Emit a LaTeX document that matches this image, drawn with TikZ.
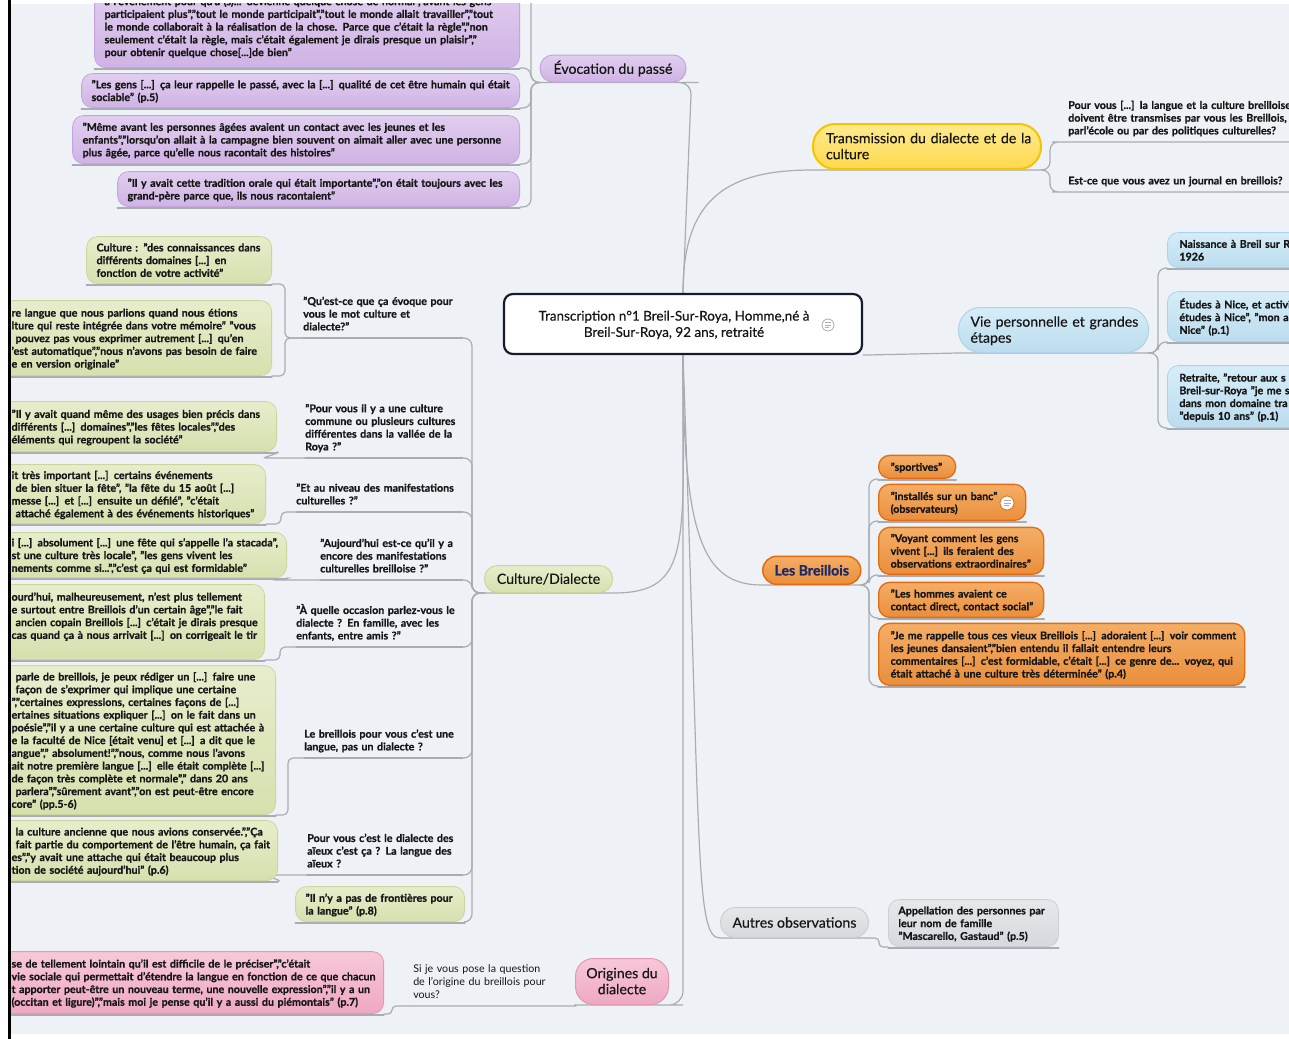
\documentclass[tikz,border=0pt]{standalone}
\usepackage{fontspec}
\setmainfont{Lato}[BoldFeatures={FakeBold=0.9}]
\newfontfamily\topf{Lato}[FakeBold=0.45]
\usetikzlibrary{calc}
\newdimen\pxu \pxu=0.75pt
\definecolor{bgc}{HTML}{EEF2F6}
\definecolor{linec}{HTML}{A9ADB3}
\definecolor{txtc}{HTML}{161616}
\definecolor{purT}{HTML}{E1CEF0}
\definecolor{purB}{HTML}{CFB3E4}
\definecolor{purD}{HTML}{C4A5DB}
\definecolor{grnT}{HTML}{E7EDCC}
\definecolor{grnB}{HTML}{D6E0AE}
\definecolor{grnD}{HTML}{CAD79C}
\definecolor{bluT}{HTML}{D6EDF8}
\definecolor{bluB}{HTML}{BBDCEE}
\definecolor{bluD}{HTML}{AED3E8}
\definecolor{orgT}{HTML}{F4AE66}
\definecolor{orgB}{HTML}{EA8E3C}
\definecolor{orgD}{HTML}{E36C10}
\definecolor{yelT}{HTML}{FFEA8E}
\definecolor{yelB}{HTML}{FFD94C}
\definecolor{yelD}{HTML}{F4C400}
\definecolor{pnkT}{HTML}{F7C8D9}
\definecolor{pnkB}{HTML}{EFA8C2}
\definecolor{pnkD}{HTML}{E596B4}
\definecolor{gryT}{HTML}{E6E8EB}
\definecolor{gryB}{HTML}{D5D8DD}
\definecolor{gryD}{HTML}{CBCFD5}
\definecolor{navy}{HTML}{1B2A6B}
\definecolor{rootD}{HTML}{161B2E}
\newcommand\sfnt{\fontsize{8}{9.55}\selectfont\bfseries}
\newcommand\rfnt{\fontsize{8}{9.55}\selectfont}
\newcommand\tfnt{\topf\fontsize{10.6}{12}\selectfont}
\newcommand\ml[1]{\raisebox{-1.5\pxu}[\height][\depth]{\begin{tabular}{@{}l@{}}#1\end{tabular}}}
\newcommand\mq[1]{\begin{tabular}{@{}l@{}}#1\end{tabular}}
\newcommand\mc[1]{\raisebox{-1.5\pxu}[\height][\depth]{\begin{tabular}{@{}c@{}}#1\end{tabular}}}
\pgfdeclarelayer{bg}
\pgfsetlayers{bg,main}
\tikzset{
  conn/.style={draw=linec, line width=1.2\pxu, line cap=round},
  bx/.style n args={3}{minimum width=#1\pxu, text width=#2\pxu, minimum height=#3\pxu},
  tbox/.style={font=\sfnt, text=txtc, align=left, rounded corners=11\pxu, inner ysep=0pt, line width=0.8\pxu},
  pbox/.style={tbox, inner xsep=10\pxu, top color=purT, bottom color=purB, draw=purD},
  gbox/.style={tbox, inner xsep=10\pxu, top color=grnT, bottom color=grnB, draw=grnD},
  bbox/.style={tbox, inner xsep=12\pxu, top color=bluT, bottom color=bluB, draw=bluD},
  obox/.style={tbox, inner xsep=12\pxu, top color=orgT, bottom color=orgB, draw=orgD, line width=1.3\pxu},
  kbox/.style={tbox, inner xsep=10\pxu, top color=pnkT, bottom color=pnkB, draw=pnkD},
  ybox/.style={tbox, inner xsep=10\pxu, top color=gryT, bottom color=gryB, draw=gryD},
  topic/.style={font=\tfnt, text=txtc, inner sep=0pt, line width=1\pxu, align=left},
  qn/.style={font=\sfnt, text=txtc, align=left, inner xsep=0pt, inner ysep=3.5\pxu, anchor=south west},
  noteic/.style={circle, fill=white, draw=linec, line width=0.8\pxu, minimum size=12\pxu, inner sep=0pt},
}
\begin{document}
\begin{tikzpicture}[x=1\pxu, y=-1\pxu]
\useasboundingbox (0,0) rectangle (1289,1039);
\begin{pgfonlayer}{bg}
\fill[white] (0,0) rectangle (1289,1039);
\fill[bgc] (10,4) rectangle (1289,1034);
\end{pgfonlayer}

% ---------- root ----------
\node[font=\topf\fontsize{10.1}{12.2}\selectfont, text=txtc, fill=white, draw=rootD, line width=2.2\pxu, rounded corners=9\pxu,
  minimum width=358\pxu, minimum height=60\pxu, inner sep=0pt] (root) at (683,324)
  {\mc{Transcription n°1 Breil-Sur-Roya, Homme,né à\\Breil-Sur-Roya, 92 ans, retraité}\hspace*{18\pxu}};
\node[noteic] (rnote) at (828,325) {};
\draw[linec, line width=0.8\pxu] ([shift={(-3,-2.5)}]rnote.center) -- ++(6,0) ([shift={(-3,0)}]rnote.center) -- ++(6,0) ([shift={(-3,2.5)}]rnote.center) -- ++(4,0);

% ---------- Evocation ----------
\node[topic, top color=purT, bottom color=purB, draw=purD, minimum width=146\pxu, minimum height=27\pxu, rounded corners=13\pxu] (evo) at (613,68.5) {Évocation du passé};
\node[pbox, bx={425}{405}{82}, anchor=south east] (pa) at (520,68) {\ml{à l'événement pour qu'a (s)... devienne quelque chose de normal","avant les gens\\
participaient plus","tout le monde participait","tout le monde allait travailler","tout\\
le monde collaborait à la réalisation de la chose. Parce que c'était la règle","non\\
seulement c'était la règle, mais c'était également je dirais presque un plaisir","\\
pour obtenir quelque chose[...]de bien"}};
\node[pbox, bx={438}{418}{34}, anchor=south east] (pb) at (520,108) {\ml{"Les gens [...] ça leur rappelle le passé, avec la [...] qualité de cet être humain qui était\\sociable" (p.5)}};
\node[pbox, bx={447}{427}{48}, anchor=south east] (pc) at (520,164) {\ml{"Même avant les personnes âgées avaient un contact avec les jeunes et les\\enfants","lorsqu'on allait à la campagne bien souvent on aimait aller avec une personne\\plus âgée, parce qu'elle nous racontait des histoires"}};
\node[pbox, bx={402}{382}{35}, anchor=south east] (pd) at (520,207) {\ml{"Il y avait cette tradition orale qui était importante","on était toujours avec les\\grand-père parce que, ils nous racontaient"}};

% ---------- Transmission ----------
\node[topic, top color=yelT, bottom color=yelB, draw=yelD, line width=2\pxu, rounded corners=22\pxu, inner xsep=13\pxu,
  minimum width=228\pxu, text width=202\pxu, minimum height=45\pxu, anchor=south west] (trans) at (812,170) {\ml{Transmission du dialecte et de la\\culture}};
\node[qn, text width=240\pxu] (tq1) at (1068,142) {\mq{Pour vous [...] la langue et la culture breilloise\\doivent être transmises par vous les Breillois,\\parl'école ou par des politiques culturelles?}};
\node[qn, text width=240\pxu] (tq2) at (1068,192) {\mq{Est-ce que vous avez un journal en breillois?}};

% ---------- Vie ----------
\node[topic, top color=bluT, bottom color=bluB, draw=bluD, rounded corners=22\pxu, inner xsep=12\pxu,
  minimum width=190\pxu, text width=166\pxu, minimum height=45\pxu, anchor=south west] (vie) at (958,353) {\ml{Vie personnelle et grandes\\étapes}};
\node[bbox, bx={170}{146}{35}, anchor=south west] (vb1) at (1167,268) {\ml{Naissance à Breil sur Ro\\1926}};
\node[bbox, bx={170}{146}{50}, anchor=south west] (vb2) at (1167,342) {\ml{Études à Nice, et activi\\études à Nice", "mon a\\Nice" (p.1)}};
\node[bbox, bx={170}{146}{62}, anchor=south west] (vb3) at (1167,428) {\ml{Retraite, "retour aux s\\Breil-sur-Roya "je me s\\dans mon domaine tra\\"depuis 10 ans" (p.1)}};

% ---------- Les Breillois ----------
\node[topic, font=\fontsize{10.6}{12}\selectfont\bfseries, text=navy, top color=orgT, bottom color=orgB, draw=orgD, line width=1.5\pxu, rounded corners=14\pxu,
  minimum width=98\pxu, minimum height=28\pxu, anchor=south west] (breil) at (762,585) {Les Breillois};
\node[obox, bx={77}{53}{23}, anchor=south west] (ob1) at (878,479) {\ml{"sportives"}};
\node[obox, bx={147}{123}{36}, anchor=south west] (ob2) at (878,521) {\ml{"installés sur un banc"\\(observateurs)}};
\node[noteic, minimum size=14\pxu, draw=orgD] (onote) at (1007,503) {};
\draw[linec, line width=0.8\pxu] ([shift={(-3.5,-2.5)}]onote.center) -- ++(7,0) ([shift={(-3.5,0)}]onote.center) -- ++(7,0) ([shift={(-3.5,2.5)}]onote.center) -- ++(5,0);
\node[obox, bx={165}{141}{47}, anchor=south west] (ob3) at (878,575) {\ml{"Voyant comment les gens\\vivent [...] ils feraient des\\observations extraordinaires"}};
\node[obox, bx={165}{141}{35}, anchor=south west] (ob4) at (878,618) {\ml{"Les hommes avaient ce\\contact direct, contact social"}};
\node[obox, bx={366}{342}{62}, anchor=south west] (ob5) at (878,686) {\ml{"Je me rappelle tous ces vieux Breillois [...] adoraient [...] voir comment\\les jeunes dansaient","bien entendu il fallait entendre leurs\\commentaires [...] c'est formidable, c'était [...] ce genre de... voyez, qui\\était attaché à une culture très déterminée" (p.4)}};

% ---------- Culture / Dialecte ----------
\node[topic, top color=grnT, bottom color=grnB, draw=grnD, rounded corners=13\pxu,
  minimum width=128\pxu, minimum height=27\pxu, anchor=south west] (cult) at (484,593) {Culture/Dialecte};
\node[qn, text width=159\pxu] (q1) at (303,338) {\mq{"Qu'est-ce que ça évoque pour\\vous le mot culture et\\dialecte?"}};
\node[gbox, bx={185}{165}{47}, anchor=south east] (g1a) at (272,284) {\ml{Culture : "des connaissances dans\\différents domaines [...] en\\fonction de votre activité"}};
\node[gbox, bx={270}{250}{75}, anchor=south east] (g1b) at (272,376) {\ml{re langue que nous parlions quand nous étions\\lture qui reste intégrée dans votre mémoire" "vous\\\hspace*{3pt}pouvez pas vous exprimer autrement [...] qu'en\\'est automatique","nous n'avons pas besoin de faire\\e en version originale"}};
\node[qn, text width=157\pxu] (q2) at (305,458) {\mq{"Pour vous il y a une culture\\commune ou plusieurs cultures\\différentes dans la vallée de la\\Roya ?"}};
\node[gbox, bx={275}{252}{50}, anchor=south east, inner xsep=13\pxu] (g2) at (277,452) {\ml{"Il y avait quand même des usages bien précis dans\\différents [...] domaines","les fêtes locales","des\\éléments qui regroupent la société"}};
\node[qn, text width=166\pxu] (q3) at (296,512) {\mq{"Et au niveau des manifestations\\culturelles ?"}};
\node[gbox, bx={264}{244}{59}, anchor=south east] (g3) at (266,524) {\ml{it très important [...] certains événements\\\hspace*{3pt}de bien situer la fête", "la fête du 15 août [...]\\messe [...] et [...] ensuite un défilé", "c'était\\\hspace*{3pt}attaché également à des événements historiques"}};
\node[qn, text width=142\pxu] (q4) at (320,580) {\mq{"Aujourd'hui est-ce qu'il y a\\encore des manifestations\\culturelles breilloise ?"}};
\node[gbox, bx={285}{265}{45}, anchor=south east] (g4) at (287,578) {\ml{i [...] absolument [...] une fête qui s'appelle l'a stacada",\\st une culture très locale", "les gens vivent les\\nements comme si...","c'est ça qui est formidable"}};
\node[qn, text width=166\pxu] (q5) at (296,647) {\mq{"À quelle occasion parlez-vous le\\dialecte ? En famille, avec les\\enfants, entre amis ?"}};
\node[gbox, bx={263}{243}{75}, anchor=south east] (g5) at (265,660) {\ml{ourd'hui, malheureusement, n'est plus tellement\\e surtout entre Breillois d'un certain âge","le fait\\\hspace*{3pt}ancien copain Breillois [...] c'était je dirais presque\\cas quand ça à nous arrivait [...] on corrigeait le tir\\\mbox{}}};
\node[qn, text width=158\pxu] (q6) at (304,758) {\mq{Le breillois pour vous c'est une\\langue, pas un dialecte ?}};
\node[gbox, bx={274}{254}{149}, anchor=south east] (g6) at (276,815) {\ml{\hspace*{3pt}parle de breillois, je peux rédiger un [...] faire une\\\hspace*{3pt}façon de s'exprimer qui implique une certaine\\","certaines expressions, certaines façons de [...]\\ertaines situations expliquer [...] on le fait dans un\\poésie","il y a une certaine culture qui est attachée à\\e la faculté de Nice [était venu] et [...] a dit que le\\angue"," absolument!","nous, comme nous l'avons\\ait notre première langue [...] elle était complète [...]\\de façon très complète et normale"," dans 20 ans\\\hspace*{3pt}parlera","sûrement avant","on est peut-être encore\\core" (pp.5-6)}};
\node[qn, text width=155\pxu] (q7) at (307,875) {\mq{Pour vous c'est le dialecte des\\aïeux c'est ça ? La langue des\\aïeux ?}};
\node[gbox, bx={276}{256}{60}, anchor=south east] (g7) at (278,881) {\ml{\hspace*{3pt}la culture ancienne que nous avions conservée.","Ça\\\hspace*{3pt}fait partie du comportement de l'être humain, ça fait\\es","y avait une attache qui était beaucoup plus\\tion de société aujourd'hui" (p.6)}};
\node[gbox, bx={169}{149}{35}, anchor=south east] (q8) at (465,922) {\ml{"Il n'y a pas de frontières pour\\la langue" (p.8)}};

% ---------- Autres observations ----------
\node[topic, top color=gryT, bottom color=gryB, draw=gryD, rounded corners=15\pxu,
  minimum width=148\pxu, minimum height=30\pxu, anchor=south west] (autres) at (720,938) {Autres observations};
\node[ybox, bx={170}{150}{47}, anchor=south west] (ag) at (888,947) {\ml{Appellation des personnes par\\leur nom de famille\\"Mascarello, Gastaud" (p.5)}};

% ---------- Origines ----------
\node[topic, top color=pnkT, bottom color=pnkB, draw=pnkD, rounded corners=18\pxu,
  minimum width=93\pxu, minimum height=46\pxu, anchor=south west] (orig) at (575,1005) {\mc{Origines du\\dialecte}};
\node[qn, font=\rfnt, text width=162\pxu] (oq) at (413,1006) {\mq{Si je vous pose la question\\de l'origine du breillois pour\\vous?}};
\node[kbox, bx={382}{362}{62}, anchor=south east] (og) at (384,1014) {\ml{se de tellement lointain qu'il est difficile de le préciser","c'était\\vie sociale qui permettait d'étendre la langue en fonction de ce que chacun\\t apporter peut-être un nouveau terme, une nouvelle expression","il y a un\\(occitan et ligure)","mais moi je pense qu'il y a aussi du piémontais" (p.7)}};

% ---------- bracket coordinates ----------
\coordinate (bEvo) at (531,0);
\coordinate (bEvoTop) at (531,-10);
\coordinate (bTrans) at (1050,0);
\coordinate (bVie) at (1158,0);
\coordinate (bBr) at (869,0);
\coordinate (bCult) at (472,0);
\coordinate (bQ1) at (285,0);
\coordinate (bQ3) at (281,0);
\coordinate (bQ5) at (280,0);
\coordinate (bQ6) at (288,0);
\coordinate (bOr) at (392,0);
\coordinate (bAu) at (879,0);

% ---------- connectors ----------
\begin{pgfonlayer}{bg}
\draw[conn, rounded corners=12\pxu] (root.north) -- ([shift={(5,0)}]evo.south east) -- (evo.south east) -- (evo.south west);
\draw[conn] (root.north) .. controls +(0,-90) and +(-90,0) .. (trans.south west) -- (trans.south east);
\draw[conn] (root.south east) -- (vie.south west) -- (vie.south east);
\draw[conn] (root.south) .. controls +(0,190) and +(80,0) .. (cult.south east) -- (cult.south west);
\draw[conn] (root.south) .. controls +(0,180) and +(-60,0) .. (breil.south west) -- (breil.south east);
\draw[conn] (root.south) .. controls +(18,500) and +(-25,0) .. (autres.south west) -- (autres.south east);
\draw[conn, rounded corners=14\pxu] (root.south) |- (orig.south east) -- (orig.south west);

\draw[conn, rounded corners=8\pxu] (evo.south west) -| (bEvoTop);
\foreach \c in {pa,pb,pc,pd}{
  \draw[conn, rounded corners=8\pxu] (evo.south west) -| (bEvo |- \c.south east) -- (\c.south east);
  \draw[conn] ([yshift=-1\pxu]\c.south west) -- ([yshift=-1\pxu]\c.south east);
}
\foreach \c in {tq1,tq2}{
  \draw[conn, rounded corners=8\pxu] (trans.south east) -| (bTrans |- \c.south west) -- ([xshift=-8\pxu]\c.south west) -- (\c.south east);
}
\foreach \c in {vb1,vb2,vb3}{
  \draw[conn, rounded corners=8\pxu] (vie.south east) -| (bVie |- \c.south west) -- (\c.south west);
  \draw[conn] ([yshift=-1\pxu]\c.south west) -- ([yshift=-1\pxu]\c.south east);
}
\foreach \c in {ob1,ob2,ob3,ob4,ob5}{
  \draw[conn, rounded corners=8\pxu] (breil.south east) -| (bBr |- \c.south west) -- (\c.south west);
  \draw[conn] ([yshift=-1\pxu]\c.south west) -- ([yshift=-1\pxu]\c.south east);
}
\foreach \c in {q1,q2,q3,q4,q5,q6,q7,q8}{
  \draw[conn, rounded corners=8\pxu] (cult.south west) -| (bCult |- \c.south east) -- (\c.south east);
}
\foreach \c in {q1,q2,q3,q4,q5,q6,q7}{
  \draw[conn] (\c.south west) -- (\c.south east);
}
\foreach \q/\g/\b in {q1/g1a/bQ1, q1/g1b/bQ1, q3/g3/bQ3, q5/g5/bQ5, q6/g6/bQ6}{
  \draw[conn, rounded corners=5\pxu] (\q.south west) -| (\b |- \g.south east) -- (\g.south east);
}
\foreach \q/\g in {q2/g2, q4/g4, q7/g7}{
  \draw[conn] (\q.south west) -- ([xshift=-12\pxu]\q.south west -| \g.south east) .. controls +(-4,0) and +(6,0) .. (\g.south east);
}
\foreach \c in {g1a,g1b,g2,g3,g4,g5,g6,g7,q8,og,ag}{
  \draw[conn] ([yshift=-1\pxu]\c.south west) -- ([yshift=-1\pxu]\c.south east);
}
\draw[conn] (orig.south west) -- (oq.south east) -- (oq.south west);
\draw[conn, rounded corners=4\pxu] (oq.south west) -| (bOr |- og.south east) -- (og.south east);
\draw[conn, rounded corners=4\pxu] (autres.south east) -| (bAu |- ag.south west) -- (ag.south west);
\end{pgfonlayer}

% ---------- frame masks ----------
\fill[white] (0,-20) rectangle (1289,3);
\fill[white] (0,1034) rectangle (1289,1060);
\fill[white] (-20,-20) rectangle (8,1060);
\fill[black] (8,-20) rectangle (10.5,1060);
\end{tikzpicture}
\end{document}
